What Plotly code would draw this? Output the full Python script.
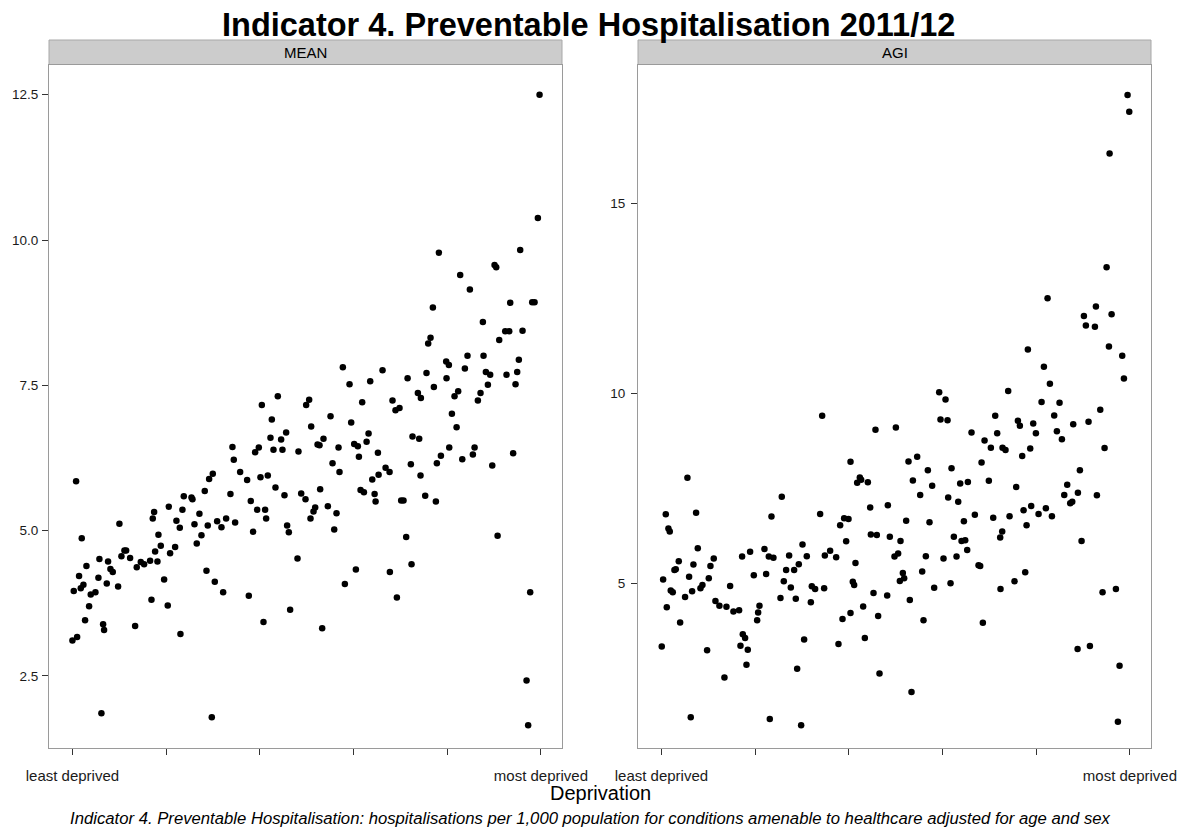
import plotly.graph_objects as go

# ---------------- data (x: deprivation position 0=least .. 100=most) ----------------
mean_x = [0.0, 0.28, 0.78, 1.0, 1.42, 1.78, 1.99, 2.35, 2.70, 2.99, 3.56, 3.91, 4.91, 5.55, 5.76, 6.19, 6.55, 6.76,
          7.33, 7.61, 8.11, 8.61, 9.75, 10.03, 10.46, 11.10, 11.46, 12.31, 13.38, 13.73, 14.59, 15.30, 16.58, 16.87,
          17.15, 17.44, 17.65, 18.15, 18.36, 18.86, 19.57, 20.35, 20.57, 20.85, 21.92, 22.20, 22.92, 23.06, 23.48,
          23.77, 25.41, 25.62, 26.05, 26.54, 27.11, 27.54, 28.25, 28.61, 28.89, 29.18, 29.96, 29.75, 30.39, 30.89,
          31.81, 32.17, 32.81, 33.73, 34.16, 34.44, 34.73, 35.80, 37.29, 37.65, 38.07, 38.57, 39.00, 39.78, 39.43,
          40.14, 40.43, 40.78, 41.13, 41.35, 41.70, 42.27, 42.56, 42.91, 43.34, 43.84, 44.55, 44.83, 45.26, 45.62,
          45.83, 46.19, 46.47, 48.04, 48.25,
          48.83, 49.75, 50.96, 50.82, 51.46, 51.82, 52.32, 52.74, 52.88, 53.31, 53.59, 54.52, 55.09, 55.52, 55.88,
          56.37, 56.80, 57.01, 58.15, 59.50, 60.14, 60.92, 60.50, 61.15, 61.50, 62.22, 62.79, 63.21, 64.00, 64.50,
          64.71, 65.21, 65.35, 66.84, 67.69, 67.76, 69.26, 70.17, 70.67, 71.24, 72.24, 72.38, 72.59, 74.02, 74.30,
          75.30, 77.58, 77.79, 78.65, 80.43, 81.00, 82.00, 83.21, 85.48, 85.84, 89.61, 90.75, 94.07, 96.93, 97.28,
          97.71,
          99.71, 99.35, 78.22, 82.77, 84.84, 90.10, 90.46, 95.58, 76.94, 87.61, 93.45, 98.14, 98.64, 76.44, 75.94,
          91.10, 92.38, 93.23, 96.08, 84.33, 87.75, 95.29, 79.78, 80.35, 83.77, 57.72, 66.19, 75.58, 88.25, 89.17,
          92.66, 94.94, 59.15, 63.56, 71.54, 79.85, 88.68, 94.58, 77.15, 73.74, 74.38, 82.34, 81.56, 87.11, 86.54,
          61.85, 68.32, 68.96, 69.82, 49.89, 50.53]
mean_y = [3.11, 3.96, 5.85, 3.17, 4.22, 4.01, 4.87, 4.07, 3.46, 4.39, 3.70, 3.90, 3.94, 4.19, 4.51, 1.86, 3.39, 3.29,
          4.09, 4.47, 4.34, 4.29, 4.04, 5.12, 4.56, 4.66, 4.66, 4.53, 3.36, 4.37, 4.46, 4.42, 4.48, 3.81,
          5.21, 5.32, 4.64, 4.47, 4.93, 4.74, 4.16, 3.71, 5.41, 4.61, 4.72, 5.17, 5.05, 3.22, 5.36,
          5.59, 5.57, 5.54, 5.11, 4.78, 5.29, 4.92, 5.68, 4.31, 5.09, 5.89, 5.98, 1.79, 4.12, 5.16,
          5.06, 3.94, 5.21, 5.63, 6.44, 6.22, 5.14, 6.01, 5.87, 3.88, 5.51, 4.98, 6.35, 6.43, 5.36,
          5.92, 7.16, 3.43, 5.36, 5.21, 5.95, 6.60, 6.91, 6.39, 5.74, 7.31, 6.57, 6.39, 5.61, 6.69,
          5.09, 4.97, 3.64, 4.52, 6.36,
          5.64, 5.54, 6.79, 5.21, 5.33, 5.40, 6.48, 6.47, 5.71, 3.32, 6.58, 5.42, 6.97, 6.16, 5.02,
          5.30, 6.43, 6.01, 4.08, 6.86, 6.49, 6.45, 4.33, 6.27, 5.70, 5.66, 6.53, 6.67, 5.88, 5.63,
          5.50, 6.34, 5.96, 6.08, 6.01, 4.29, 3.85, 5.52, 5.52, 4.89, 6.14, 4.42, 6.62, 6.58, 5.95,
          5.60, 5.50, 6.16, 6.29, 6.43, 7.01, 6.78, 6.23, 6.31, 6.43, 6.12, 4.91, 6.33, 2.42, 1.65,
          3.94,
          12.50, 10.38, 9.78, 9.40, 9.15, 9.57, 9.53, 9.83, 8.84, 8.59, 8.92, 8.93, 8.93, 8.32, 8.22,
          8.28, 8.43, 8.43, 8.44, 8.01, 8.01, 7.94, 7.91, 7.85, 7.79, 7.81, 7.76, 7.71, 7.73, 7.68,
          7.68, 7.73, 7.52, 7.57, 7.62, 7.62, 7.51, 7.52, 7.47, 7.37, 7.28, 7.40, 7.31, 7.37, 7.24,
          7.21, 7.24, 7.07, 7.11, 7.16, 7.25]

agi_x = [0.07, 0.36, 0.93, 1.14, 1.49, 1.78, 1.99, 2.42, 2.78, 3.06, 3.70, 3.99, 5.05, 5.55, 5.91, 6.26, 6.55, 6.83,
         7.40, 7.76, 8.33, 8.75, 9.75, 10.11, 10.46, 11.17, 11.53, 12.38, 13.45, 13.88, 14.66, 15.37, 16.58, 16.87,
         17.22, 17.37, 17.86, 18.15, 18.43, 18.93, 19.72, 20.43, 20.64, 20.93, 21.99, 22.35, 22.92, 23.49, 23.91,
         23.13, 25.41, 25.69, 26.12, 26.62, 27.26, 27.62, 28.33, 28.68, 28.97, 29.32, 29.82, 30.11, 30.46, 31.03,
         31.89, 32.10, 32.81, 33.88, 34.31, 34.73, 34.88, 36.01, 37.30, 37.79, 38.15, 38.65, 39.00, 39.93, 39.43,
         40.36, 40.36, 40.85, 41.14, 41.42, 41.78, 42.35, 42.63, 43.06, 43.42, 44.06, 44.56, 44.70, 45.27, 45.69,
         45.98, 46.26, 46.55, 48.19, 48.33, 48.75,
         50.04, 59.57, 61.07, 71.25, 76.09, 76.51, 79.36, 79.93, 83.84, 84.41, 85.48, 87.90, 91.17, 93.67, 94.59,
         66.19, 68.97, 70.32, 71.67, 72.81, 73.45, 77.01, 78.72, 52.74, 54.59, 56.87, 61.92, 68.33, 53.67, 57.79,
         63.77, 65.41, 69.89, 75.73, 86.62, 89.32, 55.23, 61.21, 63.35, 85.98, 88.90, 87.26, 87.69, 92.95, 52.24,
         57.22, 64.56, 66.90, 70.82, 74.31, 77.30, 78.93, 80.50, 82.06, 83.35, 77.94, 51.03, 62.42, 64.06, 64.84,
         72.31, 72.74, 89.68, 49.75, 50.53, 56.44, 60.21, 62.99, 65.27, 51.53, 51.81, 50.89, 55.66, 67.69, 68.04,
         58.22, 61.71, 72.38, 75.37, 77.65, 53.02, 94.16, 97.01, 55.94, 68.61, 88.83, 91.46, 97.79, 53.38, 97.44,
         99.50, 99.86, 95.66, 95.02, 82.42, 92.74, 90.18, 96.09, 90.60, 92.53, 78.22, 95.52, 98.36, 98.72, 81.64,
         82.92, 59.29, 60.64, 74.02, 81.14, 84.98]
agi_y = [3.35, 5.11, 6.82, 4.38, 6.45, 6.37, 4.82, 4.77, 5.36, 5.38, 5.59, 3.98, 4.65, 7.78, 5.18, 1.49, 4.80, 5.50,
         6.86, 5.93, 4.88, 4.96, 3.25, 5.14, 5.46, 5.66, 4.54, 4.42, 2.53, 4.39, 4.94, 4.27, 4.30, 3.37,
         5.71, 3.67, 3.57, 2.87, 3.26, 5.84, 5.22, 4.04, 4.24, 4.42, 5.91, 5.25, 5.71, 6.76, 5.68,
         1.44, 4.62, 7.28, 5.06, 5.36, 5.74, 4.90, 5.36, 4.60, 2.76, 5.51, 1.28, 6.03, 3.53, 5.72,
         4.51, 4.93, 4.86, 6.83, 9.41, 4.88, 5.74, 5.86, 5.69, 3.41, 6.53, 4.07, 6.72, 6.70, 6.11,
         8.20, 4.23, 5.05, 4.96, 5.54, 7.65, 7.79, 7.73, 4.40, 3.57, 7.66, 7.00, 6.29, 4.75, 9.04,
         6.28, 4.15, 2.64, 4.69, 7.06, 6.23,
         9.10, 9.31, 9.29, 9.41, 9.28, 9.15, 9.21, 8.95, 9.42, 9.00, 8.79, 9.19, 9.25, 9.57, 8.56,
         8.97, 8.76, 8.57, 8.95, 8.57, 8.51, 8.35, 8.55, 8.21, 8.33, 7.98, 8.03, 8.18, 7.71, 7.57,
         7.63, 7.67, 7.70, 7.54, 7.60, 7.98, 7.33, 7.26, 7.15, 7.33, 7.39, 7.11, 7.15, 7.32, 6.65,
         6.61, 6.64, 6.81, 6.73, 6.77, 6.93, 7.04, 6.83, 6.98, 6.77, 6.53, 6.12, 6.23, 6.12, 6.14,
         6.21, 6.37, 6.12, 5.71, 5.79, 5.72, 5.66, 5.71, 5.88, 5.28, 5.14, 5.07, 5.32, 5.48, 5.46,
         4.89, 5.01, 4.86, 5.06, 5.30, 4.57, 4.77, 4.86, 4.04, 3.97, 3.28, 3.36, 2.84, 2.15, 1.37,
         17.84, 17.40, 16.30, 13.31, 12.50, 12.28, 12.03, 12.08, 11.78, 11.75, 11.15, 11.23, 10.99, 10.39, 10.70,
         10.25, 10.03, 9.84, 10.06, 9.77, 9.75]

panel_names = ["MEAN", "AGI"]
x_tick_vals = [0, 20, 40, 60, 80, 100]
x_tick_text = ["least deprived", "", "", "", "", "most deprived"]
mean_y_ticks = [2.5, 5.0, 7.5, 10.0, 12.5]
agi_y_ticks = [5, 10, 15]
title_text = "Indicator 4. Preventable Hospitalisation 2011/12"
x_title = "Deprivation"
caption = ("Indicator 4. Preventable Hospitalisation: hospitalisations per 1,000 population "
           "for conditions amenable to healthcare adjusted for age and sex")

# ---------------- figure ----------------
# the page body margin is removed by a post script, so the figure fills the window from (0, 0)
W, H = 1181, 831
FONT = "Liberation Sans, Arial, Helvetica, sans-serif"


def px_x(p):
    return p / W


def px_y(p):
    return 1 - p / H


plot_top, plot_bot = 64.5, 748
left_dom = [px_x(49), px_x(562)]
right_dom = [px_x(638), px_x(1151)]
ydom = [px_y(plot_bot), px_y(plot_top)]

fig = go.Figure()
marker = dict(color="black", size=6.5, line=dict(width=0))
fig.add_trace(go.Scatter(x=mean_x, y=mean_y, mode="markers", marker=marker,
                         xaxis="x", yaxis="y", showlegend=False, name="MEAN"))
fig.add_trace(go.Scatter(x=agi_x, y=agi_y, mode="markers", marker=marker,
                         xaxis="x2", yaxis="y2", showlegend=False, name="AGI"))

axis_common = dict(showgrid=False, zeroline=False, showline=True, mirror=True, automargin=False,
                   linecolor="#9a9a9a", linewidth=1, ticks="outside", ticklen=6,
                   tickwidth=1, tickcolor="#333333")
xfont = dict(family=FONT, size=15, color="#1a1a1a")
yfont = dict(family=FONT, size=13.5, color="#1a1a1a")

fig.update_layout(
    width=W, height=H, autosize=False,
    margin=dict(l=0, r=0, t=0, b=0),
    paper_bgcolor="white", plot_bgcolor="white",
    font=dict(family=FONT, color="black"),
    xaxis=dict(domain=left_dom, range=[-5, 104.5], tickvals=x_tick_vals, ticktext=x_tick_text,
               anchor="y", tickfont=xfont, ticklabelstandoff=8, **axis_common),
    yaxis=dict(domain=ydom, range=[1.26, 13.02], tickvals=mean_y_ticks, tickformat=".1f",
               anchor="x", tickfont=yfont, ticklabelstandoff=1, **axis_common),
    xaxis2=dict(domain=right_dom, range=[-5, 104.5], tickvals=x_tick_vals, ticktext=x_tick_text,
                anchor="y2", tickfont=xfont, ticklabelstandoff=8, **axis_common),
    yaxis2=dict(domain=ydom, range=[0.68, 18.64], tickvals=agi_y_ticks,
                anchor="x2", tickfont=yfont, ticklabelstandoff=3, **axis_common),
)

# strips
strip_top, strip_bot = 40, 64.5
for dom, name in zip([left_dom, right_dom], panel_names):
    fig.add_shape(type="rect", xref="paper", yref="paper", x0=dom[0], x1=dom[1],
                  y0=px_y(strip_bot), y1=px_y(strip_top), fillcolor="#cccccc",
                  line=dict(color="#a8a8a8", width=1), layer="below")
    fig.add_annotation(xref="paper", yref="paper", x=(dom[0] + dom[1]) / 2, y=px_y(52.5),
                       text=name, showarrow=False, xanchor="center", yanchor="middle",
                       font=dict(family=FONT, size=15, color="black"))

# title
fig.add_annotation(xref="paper", yref="paper", x=px_x(588), y=px_y(24.5), text="<b>" + title_text + "</b>",
                   showarrow=False, xanchor="center", yanchor="middle", borderpad=0,
                   font=dict(family=FONT, size=32.5, color="black"))
# x axis title
fig.add_annotation(xref="paper", yref="paper", x=px_x(600), y=px_y(793), text=x_title,
                   showarrow=False, xanchor="center", yanchor="middle",
                   font=dict(family=FONT, size=20, color="black"))
# caption
fig.add_annotation(xref="paper", yref="paper", x=px_x(68), y=px_y(818), text="<i>" + caption + "</i>",
                   showarrow=False, xanchor="left", yanchor="middle",
                   font=dict(family=FONT, size=16.7, color="black"))

fig.write_html("out.html", config={"displayModeBar": False},
               post_script="document.body.style.margin='0px';")
